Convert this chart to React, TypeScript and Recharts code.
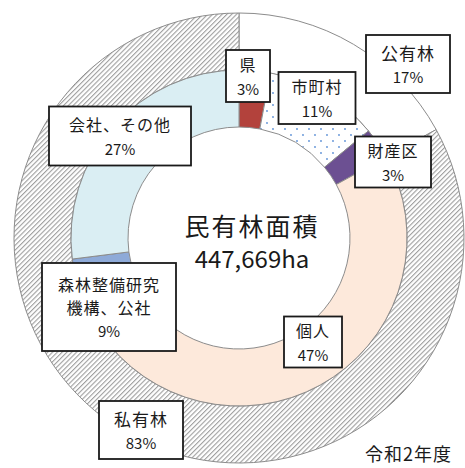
import React from "react";
import { PieChart, Pie, Cell } from "recharts";

// 区分別の割合（%）
const outerNames = ["公有林", "私有林"];
const outerValues = [17, 83];

const innerNames = ["県", "市町村", "財産区", "個人", "森林整備研究機構、公社", "会社、その他"];
const innerValues = [3, 11, 3, 47, 9, 27];

const totalArea = "447,669ha";
const centerTitle = "民有林面積";
const yearLabel = "令和2年度";

const outerData = outerNames.map((name, i) => ({ name, value: outerValues[i] }));
const innerData = innerNames.map((name, i) => ({ name, value: innerValues[i] }));

const outerFills = ["#ffffff", "url(#hatch)"];
const innerFills = ["#b3423c", "url(#dots)", "#6c5092", "#fde9db", "#8eaad8", "#daeef3"];

// label boxes: center x, center y, width, height, text lines
const labelBoxes: Record<string, { x: number; y: number; w: number; h: number; lines: string[] }> = {
  公有林: { x: 408, y: 64, w: 84, h: 58, lines: ["公有林"] },
  私有林: { x: 141, y: 430, w: 84, h: 58, lines: ["私有林"] },
  県: { x: 248, y: 76, w: 44, h: 52, lines: ["県"] },
  市町村: { x: 317, y: 98, w: 77, h: 52, lines: ["市町村"] },
  財産区: { x: 393, y: 162, w: 76, h: 51, lines: ["財産区"] },
  個人: { x: 313, y: 342, w: 58, h: 51, lines: ["個人"] },
  "森林整備研究機構、公社": { x: 109, y: 307, w: 134, h: 88, lines: ["森林整備研究", "機構、公社"] },
  "会社、その他": { x: 120, y: 136, w: 142, h: 59, lines: ["会社、その他"] },
};

const font = "'Noto Sans CJK JP', 'Noto Sans', sans-serif";

const renderBox = (props: any) => {
  const name = props.name ?? props.payload?.name;
  const box = labelBoxes[name];
  if (!box) return null;
  const pct = `${Math.round((props.percent ?? 0) * 100)}%`;
  const lines = [...box.lines, pct];
  const lineH = box.lines.length > 1 ? 23 : 24;
  const top = box.y - ((lines.length - 1) * lineH) / 2;
  const big = name === "公有林" || name === "私有林";
  return (
    <g key={name}>
      <rect
        x={box.x - box.w / 2}
        y={box.y - box.h / 2}
        width={box.w}
        height={box.h}
        fill="#fff"
        stroke="#1a1a1a"
        strokeWidth={1.8}
      />
      {lines.map((t, i) => (
        <text
          key={i}
          x={box.x}
          y={top + i * lineH}
          textAnchor="middle"
          dominantBaseline="central"
          fontFamily={font}
          fontSize={i === lines.length - 1 ? 15 : big ? 17 : 16}
          letterSpacing={i === lines.length - 1 ? 0 : 1}
          fill="#1a1a1a"
        >
          {t}
        </text>
      ))}
    </g>
  );
};

const App = () => {
  return (
    <div style={{ position: "absolute", left: 0, top: 0, width: 465, height: 468, background: "#fff", overflow: "hidden" }}>
      <svg width={0} height={0} style={{ position: "absolute" }}>
        <defs>
          <pattern id="hatch" width={3.4} height={3.4} patternUnits="userSpaceOnUse" patternTransform="rotate(45)">
            <rect width={3.4} height={3.4} fill="#fff" />
            <rect width={1.1} height={3.4} fill="#9e9e9e" />
          </pattern>
          <pattern id="dots" width={12} height={12} patternUnits="userSpaceOnUse">
            <rect width={12} height={12} fill="#fff" />
            <circle cx={3} cy={3} r={0.9} fill="#5b8fd6" />
            <circle cx={9} cy={9} r={0.9} fill="#5b8fd6" />
          </pattern>
        </defs>
      </svg>
      <PieChart width={465} height={468} margin={{ top: 0, right: 0, bottom: 0, left: 0 }}>
        <Pie
          data={outerData}
          dataKey="value"
          nameKey="name"
          cx={239}
          cy={238}
          innerRadius={168}
          outerRadius={225}
          startAngle={90}
          endAngle={-270}
          stroke="#8c8c8c"
          strokeWidth={1}
          labelLine={false}
          label={renderBox}
          isAnimationActive={false}
        >
          {outerData.map((d, i) => (
            <Cell key={d.name} fill={outerFills[i]} />
          ))}
        </Pie>
        <Pie
          data={innerData}
          dataKey="value"
          nameKey="name"
          cx={239}
          cy={238}
          innerRadius={111}
          outerRadius={168}
          startAngle={90}
          endAngle={-270}
          stroke="#8c8c8c"
          strokeWidth={1}
          labelLine={false}
          label={renderBox}
          isAnimationActive={false}
        >
          {innerData.map((d, i) => (
            <Cell key={d.name} fill={innerFills[i]} />
          ))}
        </Pie>
      </PieChart>
      <svg width={465} height={468} style={{ position: "absolute", left: 0, top: 0, pointerEvents: "none" }}>
        <text x={252} y={236} textAnchor="middle" fontFamily={font} fontSize={25} letterSpacing={2} fill="#1a1a1a">
          {centerTitle}
        </text>
        <text x={252} y={268} textAnchor="middle" fontFamily={font} fontSize={24} fill="#1a1a1a">
          {totalArea}
        </text>
        <text x={452} y={461} textAnchor="end" fontFamily={font} fontSize={18} letterSpacing={1} fill="#1a1a1a">
          {yearLabel}
        </text>
      </svg>
    </div>
  );
};

export default App;
